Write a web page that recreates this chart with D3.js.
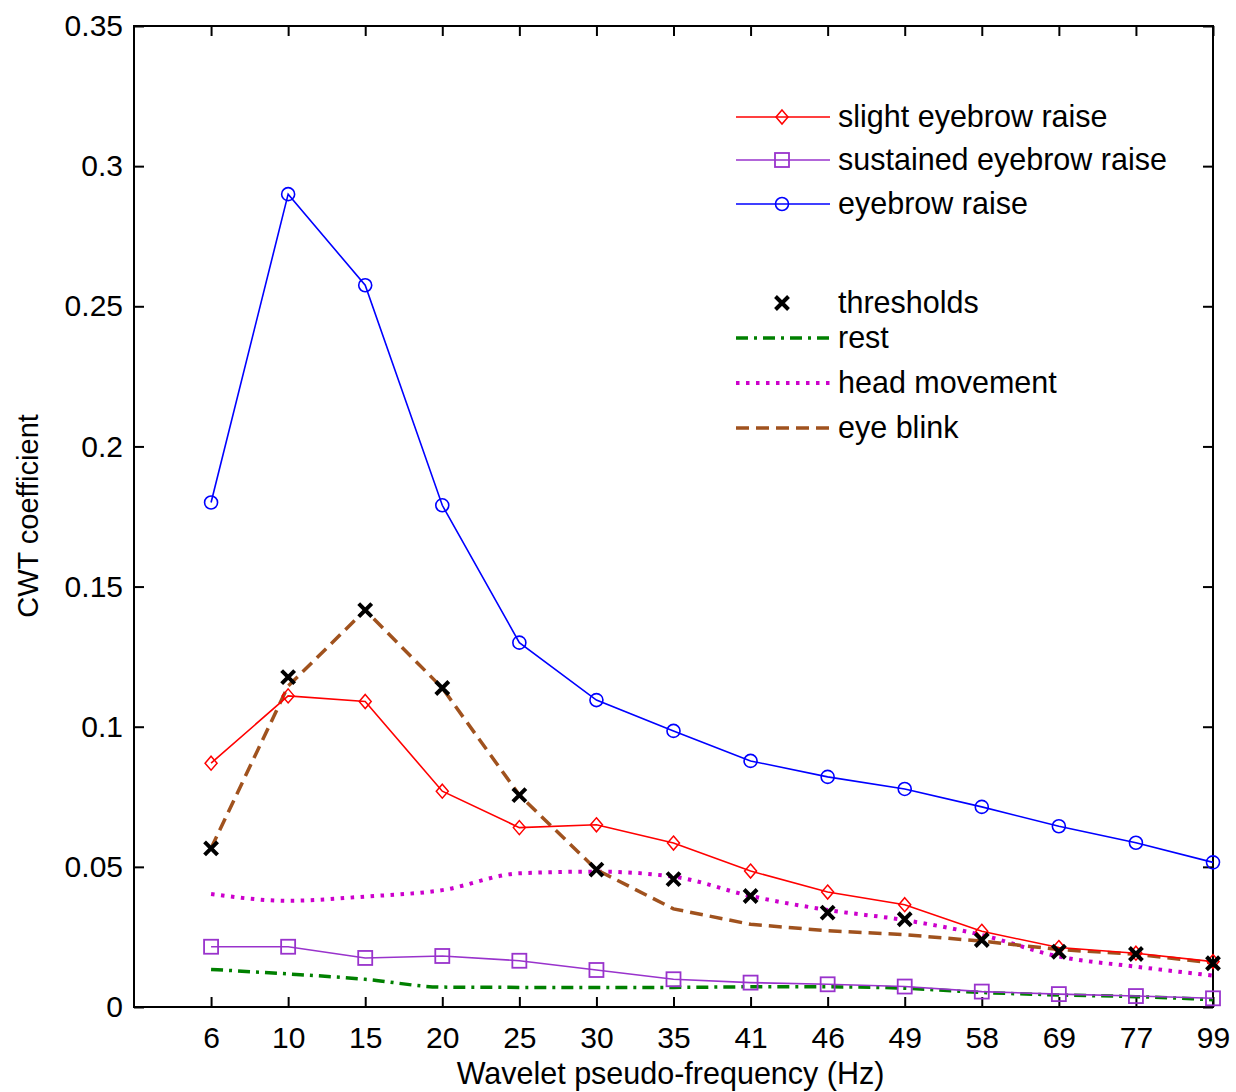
<!DOCTYPE html>
<html>
<head>
<meta charset="utf-8">
<script src="https://cdn.jsdelivr.net/npm/d3@7"></script>
<style>
  body { margin: 0; background: #fff; }
  text { font-family: "Liberation Sans", Arial, sans-serif; fill: #000; }
</style>
</head>
<body>
<div id="chart"></div>
<script>

// categories on the x axis (Hz)
var freqs = ["6", "10", "15", "20", "25", "30", "35", "41", "46", "49", "58", "69", "77", "99"];

// series values
var slight    = [0.087, 0.111, 0.109, 0.077, 0.064, 0.065, 0.0585, 0.0485, 0.041, 0.0365, 0.027, 0.0212, 0.0192, 0.0162];
var sustained = [0.0215, 0.0215, 0.0175, 0.0182, 0.0165, 0.0132, 0.0099, 0.0087, 0.0081, 0.0073, 0.0055, 0.0046, 0.0039, 0.0031];
var eyebrow   = [0.180, 0.290, 0.2575, 0.179, 0.130, 0.1095, 0.0985, 0.0878, 0.0821, 0.0778, 0.0714, 0.0645, 0.0586, 0.0516];
var thresholds= [0.0566, 0.1177, 0.1416, 0.1138, 0.0756, 0.049, 0.0456, 0.0396, 0.0337, 0.0313, 0.0239, 0.0197, 0.0189, 0.0156];
var rest      = [0.0134, 0.0118, 0.0099, 0.0071, 0.007, 0.007, 0.007, 0.0072, 0.0072, 0.0067, 0.0052, 0.0043, 0.0037, 0.0026];
var headMove  = [0.0403, 0.0379, 0.0394, 0.0417, 0.0477, 0.0483, 0.0465, 0.0396, 0.0346, 0.031, 0.0257, 0.018, 0.0144, 0.0112];
var eyeBlink  = [0.0566, 0.1145, 0.1416, 0.1138, 0.0756, 0.049, 0.035, 0.0295, 0.0272, 0.0258, 0.0235, 0.0205, 0.0188, 0.0157];

var yTicks = [0, 0.05, 0.1, 0.15, 0.2, 0.25, 0.3, 0.35];

var margin = {top: 26, right: 23, bottom: 85, left: 134}
	,width  = 1213 - 134
	,height = 1007 - 26

var x = d3.scaleLinear()
	.domain([-1, freqs.length - 1])
	.range([0, width]);

var y = d3.scaleLinear()
	.domain([0, 0.35])
	.range([height, 0]);

var svg = d3.select('#chart')
	.append('svg')
	.attr('width', 1236)
	.attr('height', 1092);

var main = svg.append('g')
	.attr('transform', 'translate(' + margin.left + ',' + margin.top + ')');

// axes (MATLAB style box, ticks inside)
var xIdx = d3.range(freqs.length);

main.append("g")
	.attr("transform", "translate(0," + height + ")")
	.call(d3.axisBottom(x).tickValues(xIdx).tickSize(-10).tickPadding(20)
		.tickFormat(function(i) { return freqs[i]; }));

main.append("g")
	.call(d3.axisTop(x).tickValues(xIdx).tickSize(-10).tickFormat(""));

main.append("g")
	.call(d3.axisLeft(y).tickValues(yTicks).tickSize(-10).tickPadding(11)
		.tickFormat(function(d) { return d === 0 ? "0" : d3.format("")(+d.toFixed(2)); }));

main.append("g")
	.attr("transform", "translate(" + width + ",0)")
	.call(d3.axisRight(y).tickValues(yTicks).tickSize(-10).tickFormat(""));

main.selectAll(".domain").remove();
main.selectAll(".tick line").attr("stroke", "#000").attr("stroke-width", 2);
main.selectAll(".tick text")
	.style("font-size", "30px")
	.style("font-family", '"Liberation Sans", Arial, sans-serif')
	.attr("fill", "#000");

main.append("rect")
	.attr("width", width)
	.attr("height", height)
	.attr("fill", "none")
	.attr("stroke", "#000")
	.attr("stroke-width", 2);

// series
var series = [
	{name: "slight eyebrow raise",    values: slight,    color: "#ff0000", width: 1.6, dash: null, marker: "diamond", curve: d3.curveLinear},
	{name: "sustained eyebrow raise", values: sustained, color: "#9933cc", width: 1.6, dash: null, marker: "square", curve: d3.curveLinear},
	{name: "eyebrow raise",           values: eyebrow,   color: "#0000ff", width: 1.6, dash: null, marker: "circle", curve: d3.curveLinear},
	{name: "rest",                    values: rest,      color: "#008000", width: 3.5, dash: "12,6,3,6", marker: null, curve: d3.curveMonotoneX},
	{name: "head movement",           values: headMove,  color: "#cc00cc", width: 4, dash: "3.5,6.5", marker: null, curve: d3.curveMonotoneX},
	{name: "eye blink",               values: eyeBlink,  color: "#a0521e", width: 3.5, dash: "13,7", marker: null, curve: d3.curveLinear}
];

function drawMarker(g, type, cx, cy, color) {
	if (type === "diamond") {
		g.append("path")
			.attr("d", "M" + cx + "," + (cy - 7) + "L" + (cx + 6) + "," + cy + "L" + cx + "," + (cy + 7) + "L" + (cx - 6) + "," + cy + "Z")
			.attr("fill", "none").attr("stroke", color).attr("stroke-width", 1.5);
	} else if (type === "square") {
		g.append("rect")
			.attr("x", cx - 7).attr("y", cy - 7).attr("width", 14).attr("height", 14)
			.attr("fill", "none").attr("stroke", color).attr("stroke-width", 1.8);
	} else if (type === "circle") {
		g.append("circle")
			.attr("cx", cx).attr("cy", cy).attr("r", 6.5)
			.attr("fill", "none").attr("stroke", color).attr("stroke-width", 1.6);
	} else if (type === "cross") {
		g.append("path")
			.attr("d", "M" + (cx - 6.5) + "," + (cy - 6.5) + "L" + (cx + 6.5) + "," + (cy + 6.5) + "M" + (cx + 6.5) + "," + (cy - 6.5) + "L" + (cx - 6.5) + "," + (cy + 6.5))
			.attr("stroke", "#000").attr("stroke-width", 4).attr("fill", "none");
	}
}

// dashed lines below, marker lines on top
var order = [3, 4, 5, 1, 0, 2];
order.forEach(function(k) {
	var s = series[k];
	var line = d3.line()
		.x(function(d, i) { return x(i); })
		.y(function(d) { return y(d); })
		.curve(s.curve);
	main.append("path")
		.datum(s.values)
		.attr("d", line)
		.attr("fill", "none")
		.attr("stroke", s.color)
		.attr("stroke-width", s.width)
		.attr("stroke-dasharray", s.dash);
	if (s.marker) {
		var mg = main.append("g");
		s.values.forEach(function(v, i) { drawMarker(mg, s.marker, x(i), y(v), s.color); });
	}
});

var tg = main.append("g");
thresholds.forEach(function(v, i) { drawMarker(tg, "cross", x(i), y(v)); });

// legend
var legend = svg.append("g");
var legendRows = [
	{s: series[0], y: 117},
	{s: series[1], y: 160},
	{s: series[2], y: 204},
	{s: {name: "thresholds", marker: "cross"}, y: 303, onlyMarker: true},
	{s: series[3], y: 338},
	{s: series[4], y: 383},
	{s: series[5], y: 428}
];
legendRows.forEach(function(r) {
	if (!r.onlyMarker) {
		legend.append("line")
			.attr("x1", 736).attr("x2", 830)
			.attr("y1", r.y).attr("y2", r.y)
			.attr("stroke", r.s.color)
			.attr("stroke-width", r.s.width)
			.attr("stroke-dasharray", r.s.dash);
	}
	if (r.s.marker) drawMarker(legend, r.s.marker, 782, r.y, r.s.color);
	legend.append("text")
		.attr("x", 838)
		.attr("y", r.y + 10)
		.style("font-size", "30.5px")
		.text(r.s.name);
});

// axis titles
svg.append("text")
	.attr("text-anchor", "middle")
	.attr("transform", "translate(" + (margin.left + width / 2 - 3) + ",1084)")
	.style("font-size", "30.5px")
	.text("Wavelet pseudo-frequency (Hz)");

svg.append("text")
	.attr("text-anchor", "middle")
	.attr("transform", "translate(38,516)rotate(-90)")
	.style("font-size", "29px")
	.text("CWT coefficient");

</script>
</body>
</html>
